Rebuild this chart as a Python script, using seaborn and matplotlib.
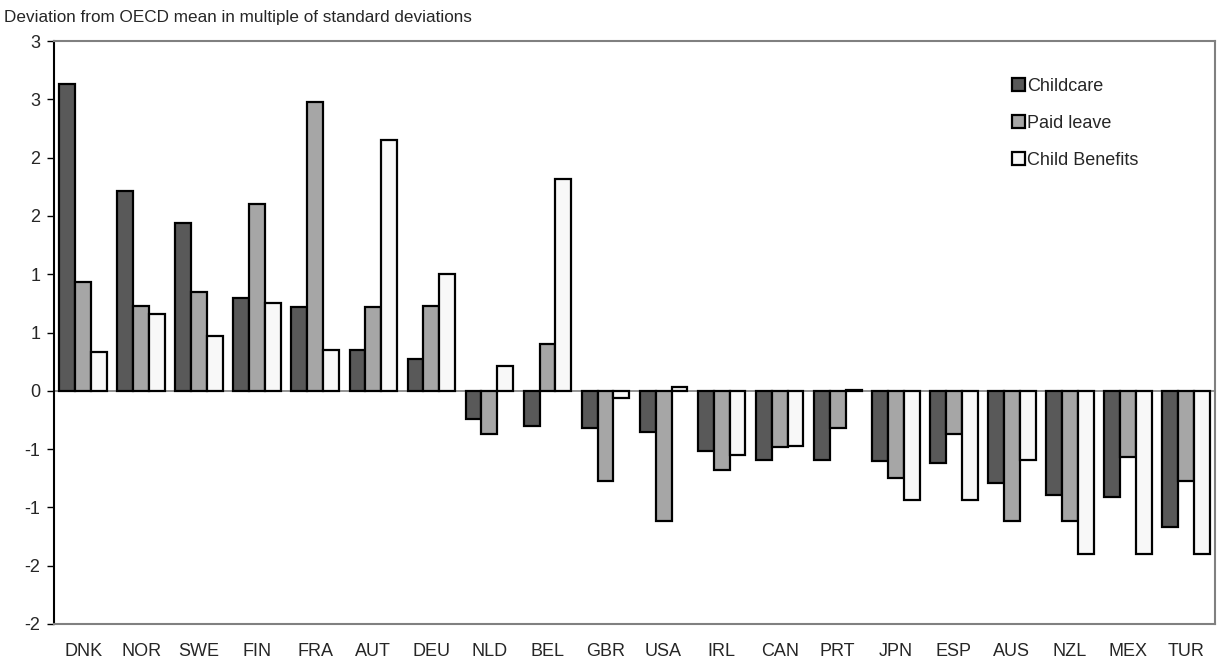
import pandas as pd
import matplotlib
matplotlib.use("Agg")
import matplotlib.pyplot as plt
import seaborn as sns

countries = ["DNK", "NOR", "SWE", "FIN", "FRA", "AUT", "DEU", "NLD", "BEL", "GBR",
             "USA", "IRL", "CAN", "PRT", "JPN", "ESP", "AUS", "NZL", "MEX", "TUR"]
childcare = [2.63, 1.71, 1.44, 0.80, 0.72, 0.35, 0.27, -0.24, -0.30, -0.32,
             -0.35, -0.52, -0.59, -0.59, -0.60, -0.62, -0.79, -0.89, -0.91, -1.17]
paid_leave = [0.93, 0.73, 0.85, 1.60, 2.48, 0.72, 0.73, -0.37, 0.40, -0.77,
              -1.12, -0.68, -0.48, -0.32, -0.75, -0.37, -1.12, -1.12, -0.57, -0.77]
child_benefits = [0.33, 0.66, 0.47, 0.75, 0.35, 2.15, 1.00, 0.21, 1.82, -0.06,
                  0.03, -0.55, -0.47, 0.01, -0.94, -0.94, -0.59, -1.40, -1.40, -1.40]
series = ["Childcare", "Paid leave", "Child Benefits"]
colors = ["#595959", "#a6a6a6", "#f8f8f8"]
yticks = [-2.0, -1.5, -1.0, -0.5, 0.0, 0.5, 1.0, 1.5, 2.0, 2.5, 3.0]
ytick_labels = ["-2", "-2", "-1", "-1", "0", "1", "1", "2", "2", "3", "3"]

df = pd.DataFrame({"country": countries, series[0]: childcare,
                   series[1]: paid_leave, series[2]: child_benefits})
long = df.melt(id_vars="country", var_name="series", value_name="value")

sns.set_style("white")
plt.rcParams["font.family"] = ["Liberation Sans", "DejaVu Sans"]

fig = plt.figure(figsize=(12.23, 6.66), dpi=100)
ax = fig.add_axes([0.0442, 0.0631, 0.9493, 0.8753])

sns.barplot(data=long, x="country", y="value", hue="series", hue_order=series,
            palette=colors, width=0.82, edgecolor="black", linewidth=1.6,
            saturation=1, ax=ax)

ax.axhline(0, color="#808080", linewidth=1.2, zorder=0.5)
ax.set_xlim(-0.5, len(countries) - 0.5)
ax.set_ylim(-2, 3)
ax.set_yticks(yticks)
ax.set_yticklabels(ytick_labels, fontsize=13)
ax.tick_params(axis="y", direction="out", length=5, width=1, color="black", pad=5, left=True)
ax.tick_params(axis="x", length=0, pad=14, labelsize=13)
ax.set_xlabel("")
ax.set_ylabel("")

for side in ["top", "right", "bottom"]:
    ax.spines[side].set_color("#808080")
    ax.spines[side].set_linewidth(1.5)
ax.spines["left"].set_color("black")
ax.spines["left"].set_linewidth(1.5)

handles, labels = ax.get_legend_handles_labels()
ax.legend(handles, labels, loc="upper left", bbox_to_anchor=(0.820, 0.897),
          bbox_transform=fig.transFigure, frameon=False, fontsize=13,
          handlelength=0.7, handleheight=0.7, handletextpad=0.15,
          labelspacing=1.12, borderpad=0)

fig.text(0.003, 0.985, "Deviation from OECD mean in multiple of standard deviations",
         fontsize=12.3, ha="left", va="top")

fig.savefig("out.png", dpi=100)
